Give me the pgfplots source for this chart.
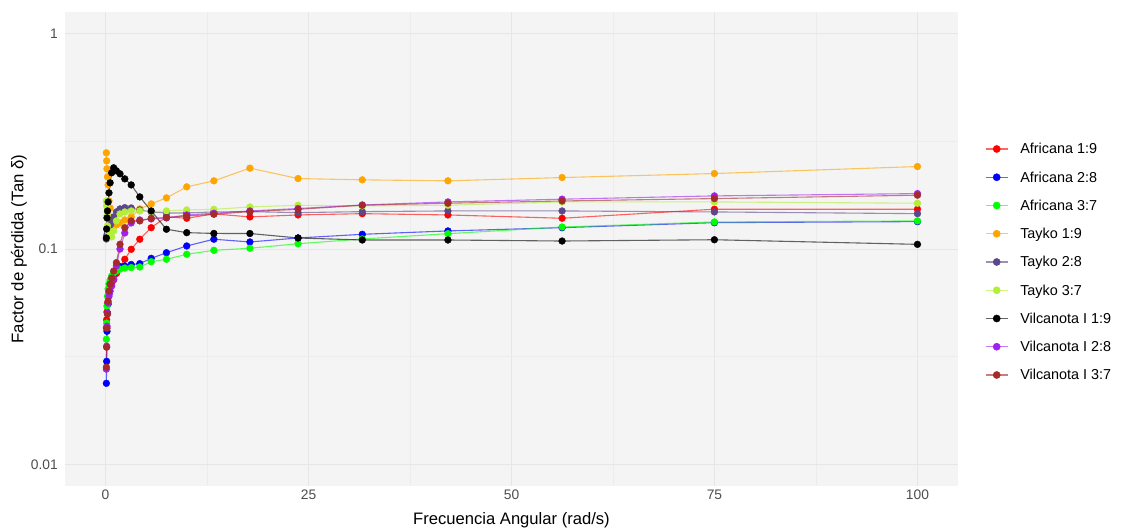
\documentclass[border=0pt]{standalone}
\usepackage{pgfplots}
\pgfplotsset{compat=1.18}
\usepackage{pgfplotstable}
\usepackage{fontspec}
\setmainfont{Liberation Sans}
\definecolor{cred}{HTML}{FF0000}
\definecolor{cblue}{HTML}{0000FF}
\definecolor{cgreen}{HTML}{00FF00}
\definecolor{corange}{HTML}{FFA500}
\definecolor{cslate}{HTML}{5D478B}
\definecolor{cyg}{HTML}{B3EE3A}
\definecolor{cblack}{HTML}{000000}
\definecolor{cpurple}{HTML}{A020F0}
\definecolor{cbrown}{HTML}{A52A2A}
\definecolor{panelbg}{HTML}{F4F4F4}
\definecolor{gridmaj}{HTML}{E6E6E6}
\definecolor{gridmin}{HTML}{ECECEC}
\definecolor{tickgray}{HTML}{4D4D4D}

\pgfplotstableread{
x      a19    a28    a37    t19    t28    t37    v19    v28    v37
0.1    0.0430 0.0238 0.0381 0.2796 0.1113 0.1671 0.1125 0.0277 0.0283
0.1334 0.0470 0.0301 0.0453 0.2566 0.1138 0.1585 0.1239 0.0354 0.0350
0.1778 0.0510 0.0415 0.0543 0.2356 0.1162 0.1424 0.1394 0.0438 0.0429
0.2371 0.0560 0.0504 0.0604 0.2162 0.1187 0.1280 0.1502 0.0504 0.0499
0.3162 0.0600 0.0555 0.0652 0.1984 0.1213 0.1213 0.1654 0.0561 0.0573
0.4217 0.0630 0.0617 0.0688 0.1671 0.1239 0.1174 0.1822 0.0604 0.0638
0.5623 0.0660 0.0673 0.0718 0.1551 0.1280 0.1149 0.2028 0.0638 0.0688
0.7499 0.0690 0.0725 0.0749 0.1394 0.1335 0.1138 0.2258 0.0673 0.0733
1      0.0720 0.0765 0.0774 0.1321 0.1409 0.1213 0.2381 0.0725 0.0790
1.334  0.0770 0.0799 0.0790 0.1293 0.1486 0.1350 0.2306 0.0834 0.0864
1.778  0.0830 0.0825 0.0807 0.1321 0.1535 0.1455 0.2233 0.1000 0.1052
2.371  0.0896 0.0834 0.0816 0.1364 0.1556 0.1486 0.2116 0.1187 0.1256
3.162  0.0997 0.0847 0.0820 0.1409 0.1551 0.1502 0.1984 0.1321 0.1350
4.217  0.1110 0.0855 0.0825 0.1535 0.1518 0.1502 0.1745 0.1364 0.1350
5.623  0.1256 0.0905 0.0873 0.1619 0.1486 0.1491 0.1502 0.1379 0.1389
7.499  0.1410 0.0961 0.0896 0.1727 0.1470 0.1502 0.1235 0.1394 0.1398
10     0.1389 0.1033 0.0945 0.1943 0.1470 0.1518 0.1191 0.1439 0.1424
13.34  0.1455 0.1110 0.0986 0.2072 0.1486 0.1528 0.1181 0.1465 0.1450
17.78  0.1409 0.1078 0.1008 0.2373 0.1491 0.1567 0.1180 0.1502 0.1491
23.71  0.1439 0.1125 0.1058 0.2123 0.1475 0.1596 0.1125 0.1541 0.1528
31.62  0.1459 0.1170 0.1113 0.2094 0.1491 0.1585 0.1101 0.1601 0.1596
42.17  0.1439 0.1213 0.1178 0.2072 0.1502 0.1596 0.1101 0.1654 0.1631
56.23  0.1389 0.1256 0.1265 0.2146 0.1502 0.1654 0.1089 0.1703 0.1671
74.99  0.1530 0.1325 0.1335 0.2240 0.1486 0.1654 0.1104 0.1764 0.1714
100    0.1530 0.1340 0.1350 0.2414 0.1459 0.1631 0.1051 0.1808 0.1777
}\data

\begin{document}
\begin{tikzpicture}
\useasboundingbox (-65bp,-42bp) rectangle (1056bp,486bp);
\begin{axis}[
  at={(0,0)}, anchor=south west,
  scale only axis, width=893bp, height=474bp,
  xmin=-4.995, xmax=104.995,
  ymode=log, ymin=0.0079433, ymax=1.2589,
  xtick={0,25,50,75,100}, xticklabels={0,25,50,75,100},
  minor xtick={12.5,37.5,62.5,87.5},
  ytick={0.01,0.1,1}, yticklabels={0.01,0.1,1},
  minor ytick={0.031623,0.31623},
  grid=both,
  major grid style={draw=gridmaj, line width=0.9bp},
  minor grid style={draw=gridmin, line width=0.5bp},
  axis line style={draw=none},
  tick style={draw=none},
  major tick length=0pt, minor tick length=0pt,
  axis background/.style={fill=panelbg},
  ticklabel style={font=\fontsize{13.8bp}{16bp}\selectfont, text=tickgray, inner sep=0pt},
  yticklabel style={anchor=east, xshift=-7bp},
  xticklabel style={anchor=north, yshift=-4bp},
  /pgf/number format/assume math mode=true,
  xlabel={Frecuencia Angular (rad/s)},
  ylabel={Factor de pérdida (Tan δ)},
  every axis x label/.style={at={(axis description cs:0.5,-0.0802)}, anchor=base, font=\fontsize{16.6bp}{20bp}\selectfont},
  every axis y label/.style={at={(axis description cs:-0.0515,0.5)}, rotate=90, anchor=center, font=\fontsize{16.8bp}{20bp}\selectfont},
  legend style={at={(axis description cs:1.0302,0.4726)}, anchor=west, draw=none, fill=none, inner sep=0pt,
    row sep=18.25bp, column sep=12bp,
    nodes={inner sep=0pt, text height=10bp, text depth=0bp},
    font=\fontsize{14.4bp}{16bp}\selectfont},
  legend cell align=left,
  legend image code/.code={\draw[#1, opacity=0.6, line width=1.1bp] (0bp,0bp) -- (22bp,0bp); \fill[#1] (11bp,0bp) circle[radius=3.6bp];},
  every axis plot/.append style={forget plot},
]
% lines
\addplot[cred, line width=1.1bp, opacity=0.6, mark=none] table[x=x,y=a19]{\data};
\addplot[cblue, line width=1.1bp, opacity=0.6, mark=none] table[x=x,y=a28]{\data};
\addplot[cgreen, line width=1.1bp, opacity=0.6, mark=none] table[x=x,y=a37]{\data};
\addplot[corange, line width=1.1bp, opacity=0.6, mark=none] table[x=x,y=t19]{\data};
\addplot[cslate, line width=1.1bp, opacity=0.6, mark=none] table[x=x,y=t28]{\data};
\addplot[cyg, line width=1.1bp, opacity=0.6, mark=none] table[x=x,y=t37]{\data};
\addplot[cblack, line width=1.1bp, opacity=0.6, mark=none] table[x=x,y=v19]{\data};
\addplot[cpurple, line width=1.1bp, opacity=0.6, mark=none] table[x=x,y=v28]{\data};
\addplot[cbrown, line width=1.1bp, opacity=0.6, mark=none] table[x=x,y=v37]{\data};
% points
\addplot[color=cred, only marks, mark=*, mark size=3.4bp, mark options={draw=cred, fill=cred, line width=0.4bp}] table[x=x,y=a19]{\data};
\addplot[color=cblue, only marks, mark=*, mark size=3.4bp, mark options={draw=cblue, fill=cblue, line width=0.4bp}] table[x=x,y=a28]{\data};
\addplot[color=cgreen, only marks, mark=*, mark size=3.4bp, mark options={draw=cgreen, fill=cgreen, line width=0.4bp}] table[x=x,y=a37]{\data};
\addplot[color=corange, only marks, mark=*, mark size=3.4bp, mark options={draw=corange, fill=corange, line width=0.4bp}] table[x=x,y=t19]{\data};
\addplot[color=cslate, only marks, mark=*, mark size=3.4bp, mark options={draw=cslate, fill=cslate, line width=0.4bp}] table[x=x,y=t28]{\data};
\addplot[color=cyg, only marks, mark=*, mark size=3.4bp, mark options={draw=cyg, fill=cyg, line width=0.4bp}] table[x=x,y=t37]{\data};
\addplot[color=cblack, only marks, mark=*, mark size=3.4bp, mark options={draw=cblack, fill=cblack, line width=0.4bp}] table[x=x,y=v19]{\data};
\addplot[color=cpurple, only marks, mark=*, mark size=3.4bp, mark options={draw=cpurple, fill=cpurple, line width=0.4bp}] table[x=x,y=v28]{\data};
\addplot[color=cbrown, only marks, mark=*, mark size=3.4bp, mark options={draw=cbrown, fill=cbrown, line width=0.4bp}] table[x=x,y=v37]{\data};
% legend
\addlegendimage{color=cred}\addlegendentry{Africana 1:9}
\addlegendimage{color=cblue}\addlegendentry{Africana 2:8}
\addlegendimage{color=cgreen}\addlegendentry{Africana 3:7}
\addlegendimage{color=corange}\addlegendentry{Tayko 1:9}
\addlegendimage{color=cslate}\addlegendentry{Tayko 2:8}
\addlegendimage{color=cyg}\addlegendentry{Tayko 3:7}
\addlegendimage{color=cblack}\addlegendentry{Vilcanota I 1:9}
\addlegendimage{color=cpurple}\addlegendentry{Vilcanota I 2:8}
\addlegendimage{color=cbrown}\addlegendentry{Vilcanota I 3:7}
\end{axis}
\end{tikzpicture}
\end{document}
